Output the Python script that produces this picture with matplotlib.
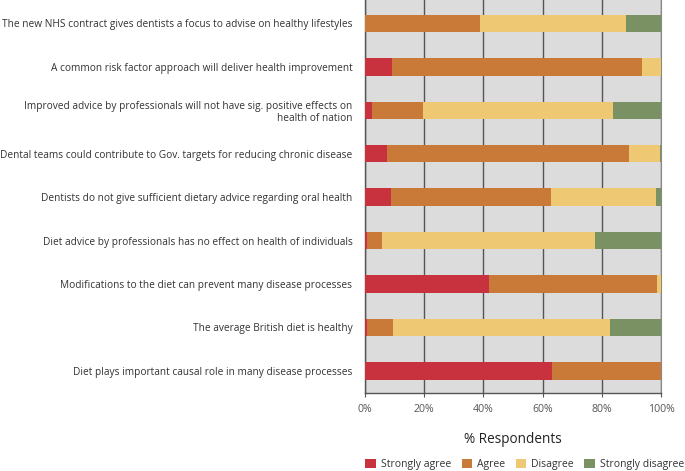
import matplotlib
matplotlib.use("Agg")
import matplotlib.pyplot as plt
import numpy as np

plt.rcParams['font.family'] = ['Open Sans', 'DejaVu Sans']

categories = [
    "The new NHS contract gives dentists a focus to advise on healthy lifestyles",
    "A common risk factor approach will deliver health improvement",
    "Improved advice by professionals will not have sig. positive effects on\nhealth of nation",
    "Dental teams could contribute to Gov. targets for reducing chronic disease",
    "Dentists do not give sufficient dietary advice regarding oral health",
    "Diet advice by professionals has no effect on health of individuals",
    "Modifications to the diet can prevent many disease processes",
    "The average British diet is healthy",
    "Diet plays important causal role in many disease processes",
]
strongly_agree = [0.0, 9.0, 2.5, 7.3, 8.8, 0.6, 42.0, 0.6, 63.3]
agree = [38.9, 84.5, 17.2, 81.9, 53.9, 5.0, 56.5, 8.9, 36.7]
disagree = [49.2, 6.5, 64.2, 10.3, 35.5, 72.0, 1.5, 73.3, 0.0]
strongly_disagree = [11.9, 0.0, 16.1, 0.5, 1.8, 22.4, 0.0, 17.2, 0.0]

series_names = ["Strongly agree", "Agree", "Disagree", "Strongly disagree"]
colors = ["#C8323F", "#C97A38", "#EEC873", "#7A9163"]
x_ticks = [0, 20, 40, 60, 80, 100]
x_tick_labels = ["0%", "20%", "40%", "60%", "80%", "100%"]

fig = plt.figure(figsize=(6.85, 4.71), dpi=100)
ax = fig.add_axes([365/685, 1 - 393/471, 296/685, 393/471])
ax.set_facecolor("#DCDCDC")

y = np.arange(len(categories))
left = np.zeros(len(categories))
for vals, name, c in zip([strongly_agree, agree, disagree, strongly_disagree], series_names, colors):
    ax.barh(y, vals, left=left, height=0.4, color=c, label=name, zorder=3)
    left += np.array(vals)

ax.set_xlim(0, 100)
ax.set_ylim(8.51, -0.54)
ax.set_yticks(y)
ax.set_yticklabels(categories, fontsize=7.3, color="#333333", linespacing=1.1)
ax.tick_params(axis='y', length=0, pad=9)
ax.set_xticks(x_ticks)
ax.set_xticklabels(x_tick_labels, fontsize=7.6, color="#555555")
ax.tick_params(axis='x', length=3, color="#555555", pad=5)
ax.xaxis.grid(True, color="#555555", linewidth=1.0, zorder=1)
ax.set_axisbelow(True)
for s in ["left", "bottom"]:
    ax.spines[s].set_color("#555555")
    ax.spines[s].set_linewidth(1.0)
ax.spines["right"].set_color("#888888")
ax.spines["top"].set_visible(False)

ax.set_xlabel("% Respondents", fontsize=9.8, color="#222222", labelpad=12)

handles, labels = ax.get_legend_handles_labels()
fig.legend(handles, labels, loc="lower center", bbox_to_anchor=(0.766, -0.018), ncol=4,
           frameon=False, fontsize=7.5, handlelength=1.0, handleheight=1.0,
           columnspacing=1.0, handletextpad=0.5, labelcolor="#333333")

fig.savefig("out.png", dpi=100)
